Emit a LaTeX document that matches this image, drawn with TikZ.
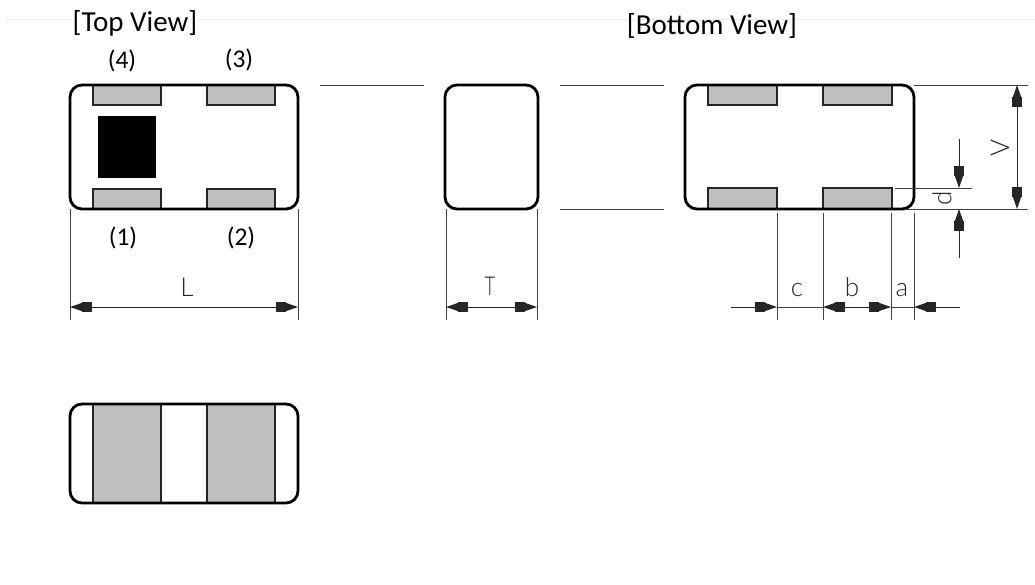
\documentclass[tikz,border=0pt]{standalone}
\usepackage{fontspec}
\setmainfont{Carlito}
\setsansfont{Lato}[UprightFont=* Light]
\usetikzlibrary{arrows.meta}
\definecolor{padgray}{HTML}{BFBFBF}
\definecolor{rulegray}{HTML}{EDEDED}
\tikzset{
    body/.style={line width=2.8pt, rounded corners=12pt},
    padbox/.style={draw=black!85, fill=padgray, line width=1.8pt},
    dimline/.style={draw=black!75, line width=1pt},
    dimhead/.tip={Rectangle[length=10pt,width=9.5pt,sep=0pt]Triangle[length=12pt,width=8pt]},
    dimarrow/.style={draw=black!85, line width=1pt, {dimhead}-{dimhead}},
    tipend/.style={draw=black!85, line width=1pt, -{dimhead}},
    viewtitle/.style={fill=white, inner sep=0pt, font=\fontsize{29}{32}\selectfont},
    pinlabel/.style={font=\fontsize{25.5}{28}\selectfont},
    dimlabel/.style={font=\sffamily\fontsize{26}{28}\selectfont, text=black!85, inner sep=0pt}
}
\begin{document}
\begin{tikzpicture}[x=1pt, y=-1pt]

    % Fix the page to the size of the image
    \useasboundingbox (0,0) rectangle (1035,584);

    % Faint rule behind the titles
    \draw[rulegray, line width=1pt] (5,19) -- (1035,19);
    \node[viewtitle] (topTitle) at (135,23) {[Top View]};
    \node[viewtitle, fill=none] (bottomTitle) at (712,26) {[Bottom View]};

    % Top view
    \foreach \x in {93,207} {
        \draw[padbox] (\x,85) rectangle +(68,20);
        \draw[padbox] (\x,209) rectangle +(68,-20);
    }
    \fill (98,116) rectangle (156,178);
    \draw[body] (70,85) rectangle (298,209);
    \node[pinlabel] (pinFour) at (122,61) {(4)};
    \node[pinlabel] (pinThree) at (239,60) {(3)};
    \node[pinlabel] (pinOne) at (123,238) {(1)};
    \node[pinlabel] (pinTwo) at (241,238) {(2)};

    % Dimension L
    \coordinate (L1) at (70,307);
    \coordinate (L2) at (298,307);
    \draw[dimline] (70,209) -- (70,320);
    \draw[dimline] (298,209) -- (298,320);
    \draw[dimarrow] (L1) -- (L2);
    \node[dimlabel] (lenL) at (187,287) {L};

    % Side view
    \draw[body] (445,85) rectangle (538,209);
    \draw[dimline] (320,85) -- (424,85);
    \draw[dimline] (560,85) -- (664,85);
    \draw[dimline] (560,209) -- (664,209);

    % Dimension T
    \coordinate (T1) at (446,307);
    \coordinate (T2) at (537,307);
    \draw[dimline] (446,209) -- (446,320);
    \draw[dimline] (537,209) -- (537,320);
    \draw[dimarrow] (T1) -- (T2);
    \node[dimlabel, xscale=0.7] (lenT) at (490,286) {T};

    % Bottom view
    \foreach \x in {708,823} {
        \draw[padbox] (\x,85) rectangle +(69,20);
        \draw[padbox] (\x,209) rectangle +(69,-21);
    }
    \draw[body] (685,85) rectangle (914,209);

    % Dimensions c, b, a
    \coordinate (C0) at (731,307);
    \coordinate (C1) at (777,307);
    \coordinate (B1) at (823,307);
    \coordinate (B2) at (891,307);
    \coordinate (A1) at (914,307);
    \coordinate (A0) at (960,307);
    \foreach \x in {777,823,891,914}
        \draw[dimline] (\x,213) -- (\x,320);
    \draw[tipend] (C0) -- (C1);
    \draw[dimline] (C1) -- (B1);
    \draw[dimarrow] (B1) -- (B2);
    \draw[dimline] (B2) -- (A1);
    \draw[tipend] (A0) -- (A1);
    \node[dimlabel] (lenC) at (797,290) {c};
    \node[dimlabel] (lenB) at (852,287) {b};
    \node[dimlabel] (lenA) at (902,290) {a};

    % Dimension d
    \coordinate (D1) at (959,139);
    \coordinate (D2) at (959,188);
    \coordinate (D3) at (959,258);
    \coordinate (D4) at (959,209);
    \draw[dimline] (895,188) -- (972,188);
    \draw[dimline] (905,209) -- (1028,209);
    \draw[tipend] (D1) -- (D2);
    \draw[tipend] (D3) -- (D4);
    \node[dimlabel, rotate=90] (lenD) at (942,198) {d};

    % Dimension V
    \coordinate (V1) at (1017,85);
    \coordinate (V2) at (1017,209);
    \draw[dimline] (914,85) -- (1028,85);
    \draw[dimarrow] (V1) -- (V2);
    \node[dimlabel, rotate=90] (lenV) at (1000,148) {V};

    % Lower part
    \draw[padbox] (93,404) rectangle (161,503);
    \draw[padbox] (207,404) rectangle (275,503);
    \draw[body] (70,404) rectangle (298,503);

\end{tikzpicture}
\end{document}
